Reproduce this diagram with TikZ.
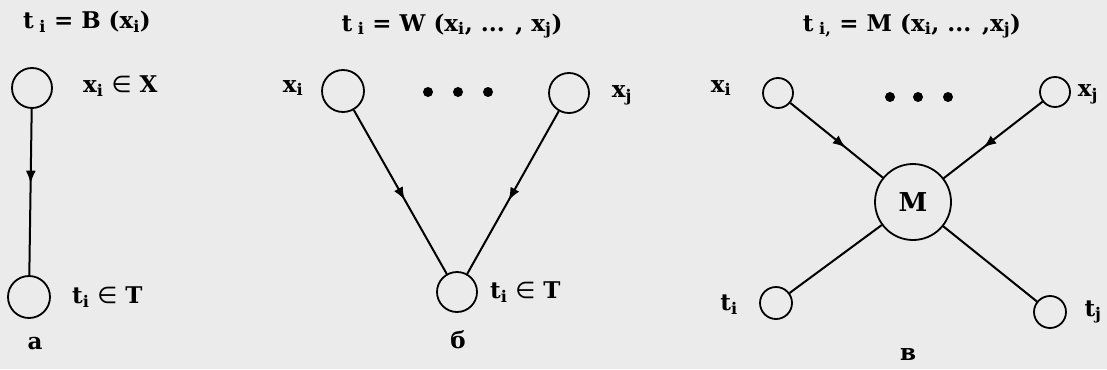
\documentclass[tikz,border=0pt]{standalone}
\usepackage{fontspec}
\setmainfont{DejaVu Serif}
\newfontfamily\symf{DejaVu Sans}
\usetikzlibrary{decorations.markings,arrows.meta}
\newcommand{\sbs}[1]{\textsubscript{#1}}
\newcommand{\elem}{{\symf\mdseries ∈}}
\tikzset{
  vert/.style={circle,draw,line width=1.8pt,inner sep=0pt,minimum size=#1},
  lbl/.style={font=\fontsize{23}{27}\selectfont\bfseries,inner sep=0pt},
  conn/.style={line width=2pt},
  midarrow/.style={postaction={decorate},decoration={markings,
     mark=at position #1 with {\arrow{Latex[length=13pt,width=10pt]}}}},
  bigdot/.style={circle,fill,inner sep=0pt,minimum size=10pt}
}
\begin{document}
\begin{tikzpicture}[x=1pt,y=-1pt]
\fill[black!8] (0,0) rectangle (1107,369);
\useasboundingbox (0,0) rectangle (1107,369);
% ---- a ----
\node[lbl] (ta) at (87,22) {t\sbs{ i} = B (x\sbs{i})};
\node[vert=40pt] (a1) at (32,88) {};
\node[vert=42pt] (a2) at (29,297) {};
\node[lbl,anchor=west] (la1) at (83,86) {x\sbs{i} \elem{} X};
\node[lbl,anchor=west] (la2) at (72,297) {t\sbs{i} \elem{} T};
\node[lbl] (na) at (35,344) {а};
\draw[conn,midarrow=0.45] (a1) -- (a2);
% ---- b ----
\node[lbl] (tb) at (452,26) {t\sbs{ i} = W (x\sbs{i}, ... , x\sbs{j})};
\node[vert=42pt] (b1) at (343,91) {};
\node[vert=40pt] (b2) at (569,93) {};
\node[vert=40pt] (b3) at (457,292) {};
\node[lbl] (lb1) at (293,88) {x\sbs{i}};
\node[lbl] (lb2) at (622,95) {x\sbs{j}};
\node[lbl,anchor=west] (lb3) at (490,292) {t\sbs{i} \elem{} T};
\node[bigdot] (bd1) at (428,92) {};
\node[bigdot] (bd2) at (458,92) {};
\node[bigdot] (bd3) at (488,92) {};
\node[lbl] (nb) at (458,340) {б};
\draw[conn,midarrow=0.55] (b1) -- (b3);
\draw[conn,midarrow=0.55] (b2) -- (b3);
% ---- c ----
\node[lbl] (tc) at (912,26) {t\sbs{ i,} = M (x\sbs{i}, ... ,x\sbs{j})};
\node[vert=30pt] (c1) at (778,93) {};
\node[vert=30pt] (c2) at (1055,92) {};
\node[vert=76pt,lbl,font=\fontsize{26}{30}\selectfont\bfseries] (cm) at (913,202) {M};
\node[vert=32pt] (c3) at (776,303) {};
\node[vert=32pt] (c4) at (1050,312) {};
\node[lbl] (lc1) at (721,88) {x\sbs{i}};
\node[lbl] (lc2) at (1088,94) {x\sbs{j}};
\node[lbl] (lc3) at (729,305) {t\sbs{i}};
\node[lbl] (lc4) at (1093,312) {t\sbs{j}};
\node[bigdot] (cd1) at (890,97) {};
\node[bigdot] (cd2) at (918,97) {};
\node[bigdot] (cd3) at (948,97) {};
\node[lbl] (nc) at (908,355) {в};
\draw[conn,midarrow=0.6] (c1) -- (cm);
\draw[conn,midarrow=0.6] (c2) -- (cm);
\draw[conn] (cm) -- (c3);
\draw[conn] (cm) -- (c4);
\end{tikzpicture}
\end{document}
